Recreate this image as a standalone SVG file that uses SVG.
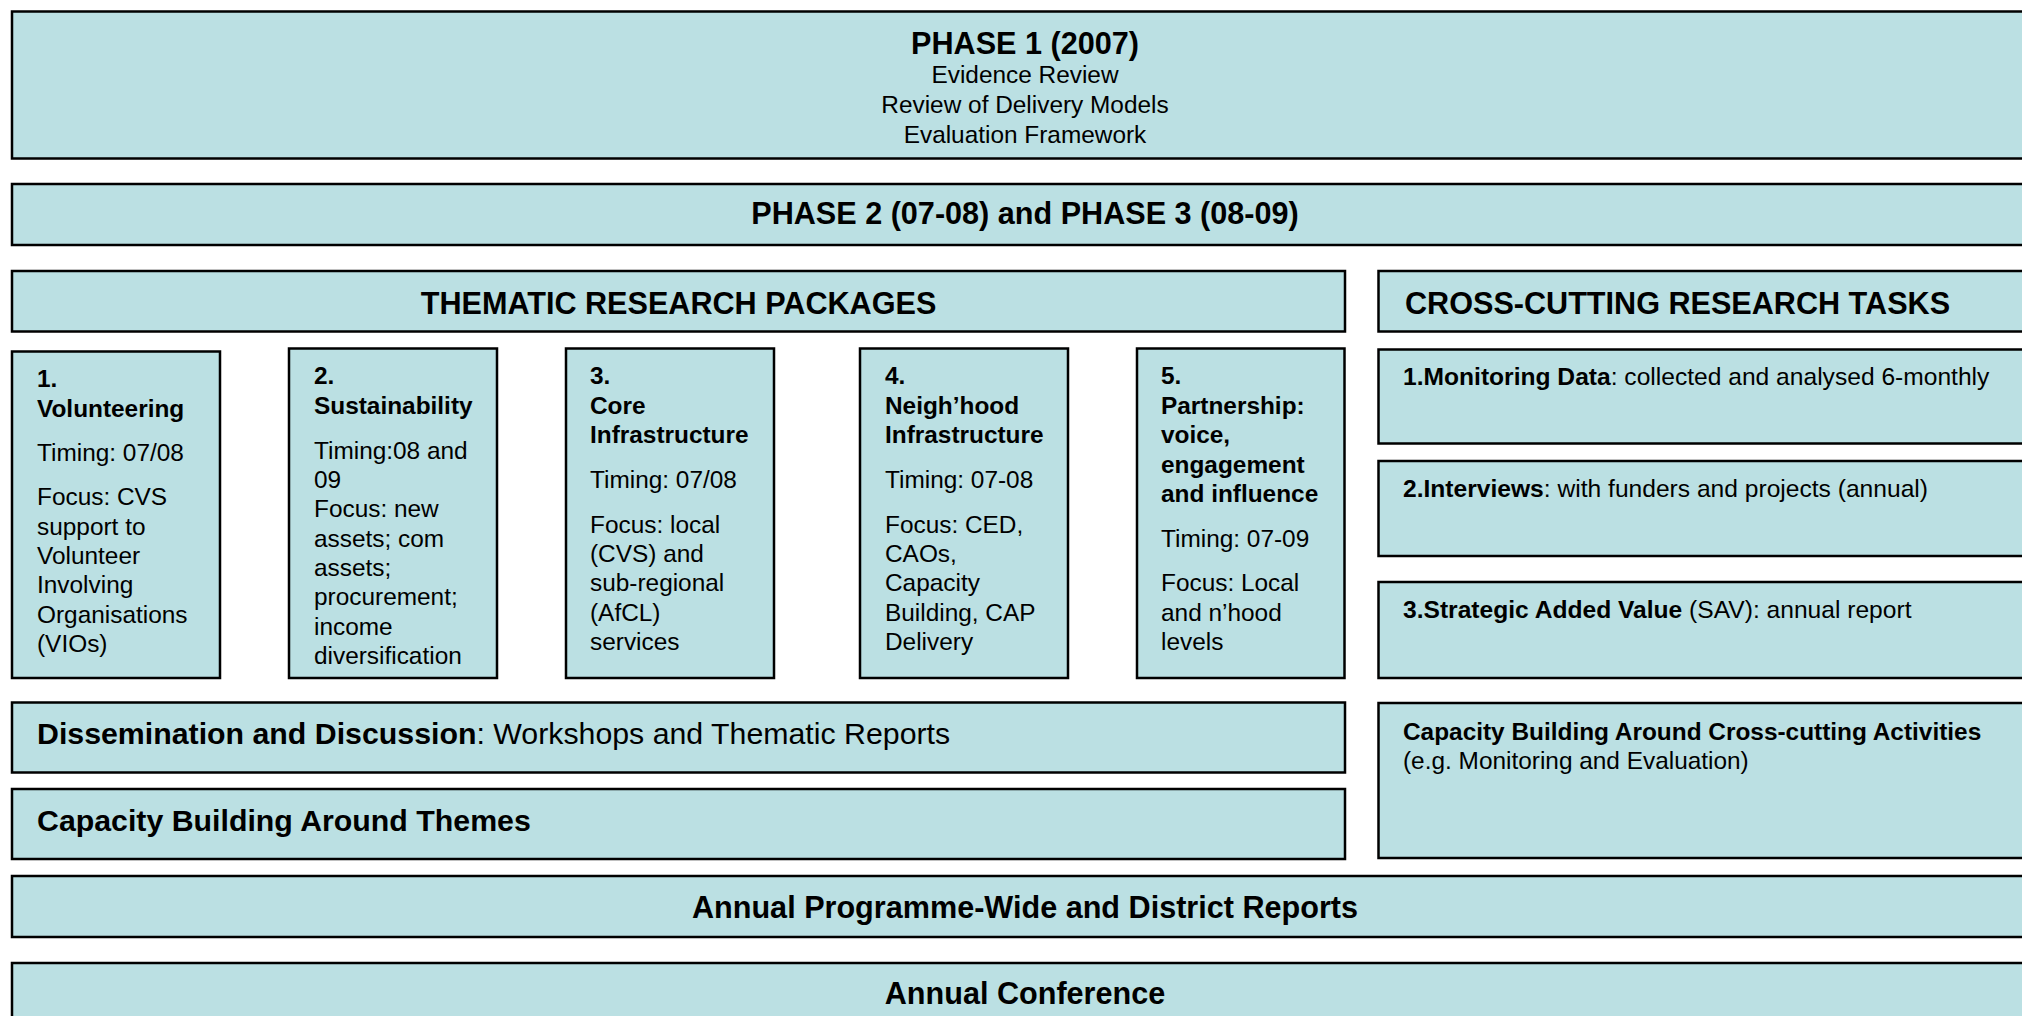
<svg xmlns="http://www.w3.org/2000/svg" width="2022" height="1016" viewBox="0 0 2022 1016">
<style>
.box{fill:#BBE0E3;stroke:#000;stroke-width:2.5}
text{font-family:"Liberation Sans",Arial,Helvetica,sans-serif;fill:#000}
.t{font-size:30.6px;font-weight:bold}
.d{font-size:30.3px;font-weight:bold}
.m{font-size:24.4px}
.r{font-size:24.6px}
.b{font-weight:bold}
.c{text-anchor:middle}
</style>
<rect width="2022" height="1016" fill="#fff"/>
<g id="connectors"/>
<g id="phase1">
<rect class="box" x="12" y="11.5" width="2026" height="147"/>
<text class="t c" x="1025" y="53.5">PHASE 1 (2007)</text>
<text class="m c" x="1025" y="83">Evidence Review</text>
<text class="m c" x="1025" y="113">Review of Delivery Models</text>
<text class="m c" x="1025" y="143">Evaluation Framework</text>
</g>
<g id="phase23">
<rect class="box" x="12" y="184" width="2026" height="61"/>
<text class="t c" x="1025" y="224">PHASE 2 (07-08) and PHASE 3 (08-09)</text>
</g>
<g id="thematic">
<rect class="box" x="12" y="271" width="1333" height="60.5"/>
<text class="t c" x="678.5" y="313.5">THEMATIC RESEARCH PACKAGES</text>
</g>
<g id="crosscutting">
<rect class="box" x="1378.5" y="271" width="700" height="60.5"/>
<text class="t" x="1405" y="313.5">CROSS-CUTTING RESEARCH TASKS</text>
</g>
<g id="pkg1">
<rect class="box" x="12" y="351.5" width="208" height="326.5"/>
<text class="m" x="37"><tspan class="b" y="387">1.</tspan><tspan class="b" x="37" y="416.5">Volunteering</tspan><tspan x="37" y="461">Timing: 07/08</tspan><tspan x="37" y="505">Focus: CVS</tspan><tspan x="37" y="534.5">support to</tspan><tspan x="37" y="564">Volunteer</tspan><tspan x="37" y="593">Involving</tspan><tspan x="37" y="622.5">Organisations</tspan><tspan x="37" y="652">(VIOs)</tspan></text>
</g>
<g id="pkg2">
<rect class="box" x="289" y="348.5" width="208" height="329.5"/>
<text class="m" x="314"><tspan class="b" y="384">2.</tspan><tspan class="b" x="314" y="413.5">Sustainability</tspan><tspan x="314" y="458.5">Timing:08 and</tspan><tspan x="314" y="488">09</tspan><tspan x="314" y="517">Focus: new</tspan><tspan x="314" y="546.5">assets; com</tspan><tspan x="314" y="576">assets;</tspan><tspan x="314" y="605">procurement;</tspan><tspan x="314" y="634.5">income</tspan><tspan x="314" y="664">diversification</tspan></text>
</g>
<g id="pkg3">
<rect class="box" x="566" y="348.5" width="208" height="329.5"/>
<text class="m" x="590"><tspan class="b" y="384">3.</tspan><tspan class="b" x="590" y="413.5">Core</tspan><tspan class="b" x="590" y="443">Infrastructure</tspan><tspan x="590" y="487.5">Timing: 07/08</tspan><tspan x="590" y="532.5">Focus: local</tspan><tspan x="590" y="562">(CVS) and</tspan><tspan x="590" y="591">sub-regional</tspan><tspan x="590" y="620.5">(AfCL)</tspan><tspan x="590" y="650">services</tspan></text>
</g>
<g id="pkg4">
<rect class="box" x="860" y="348.5" width="208" height="329.5"/>
<text class="m" x="885"><tspan class="b" y="384">4.</tspan><tspan class="b" x="885" y="413.5">Neigh’hood</tspan><tspan class="b" x="885" y="443">Infrastructure</tspan><tspan x="885" y="487.5">Timing: 07-08</tspan><tspan x="885" y="532.5">Focus: CED,</tspan><tspan x="885" y="562">CAOs,</tspan><tspan x="885" y="591">Capacity</tspan><tspan x="885" y="620.5">Building, CAP</tspan><tspan x="885" y="650">Delivery</tspan></text>
</g>
<g id="pkg5">
<rect class="box" x="1137" y="348.5" width="207.5" height="329.5"/>
<text class="m" x="1161"><tspan class="b" y="384">5.</tspan><tspan class="b" x="1161" y="413.5">Partnership:</tspan><tspan class="b" x="1161" y="443">voice,</tspan><tspan class="b" x="1161" y="472.5">engagement</tspan><tspan class="b" x="1161" y="502">and influence</tspan><tspan x="1161" y="546.5">Timing: 07-09</tspan><tspan x="1161" y="591">Focus: Local</tspan><tspan x="1161" y="620.5">and n’hood</tspan><tspan x="1161" y="650">levels</tspan></text>
</g>
<g id="monitoring">
<rect class="box" x="1378.5" y="349.5" width="700" height="94"/>
<text class="r" x="1403" y="385"><tspan class="b">1.Monitoring Data</tspan>: collected and analysed 6-monthly</text>
</g>
<g id="interviews">
<rect class="box" x="1378.5" y="461" width="700" height="95"/>
<text class="r" x="1403" y="496.5"><tspan class="b">2.Interviews</tspan>: with funders and projects (annual)</text>
</g>
<g id="sav">
<rect class="box" x="1378.5" y="582" width="700" height="96"/>
<text class="r" x="1403" y="617.5"><tspan class="b">3.Strategic Added Value</tspan> (SAV): annual report</text>
</g>
<g id="dissemination">
<rect class="box" x="12" y="702.5" width="1333" height="70"/>
<text class="d" x="37" y="744">Dissemination and Discussion<tspan font-weight="normal">: Workshops and Thematic Reports</tspan></text>
</g>
<g id="capacity-themes">
<rect class="box" x="12" y="789" width="1333" height="70"/>
<text class="d" x="37" y="830.5">Capacity Building Around Themes</text>
</g>
<g id="capacity-cross">
<rect class="box" x="1378.5" y="703" width="700" height="155"/>
<text class="m" x="1403" y="740"><tspan class="b">Capacity Building Around Cross-cutting Activities</tspan><tspan x="1403" y="768.5">(e.g. Monitoring and Evaluation)</tspan></text>
</g>
<g id="annual-reports">
<rect class="box" x="12" y="876" width="2026" height="61"/>
<text class="t c" x="1025" y="917.5">Annual Programme-Wide and District Reports</text>
</g>
<g id="annual-conference">
<rect class="box" x="12" y="963" width="2026" height="80"/>
<text class="t c" x="1025" y="1003.5">Annual Conference</text>
</g>
</svg>
